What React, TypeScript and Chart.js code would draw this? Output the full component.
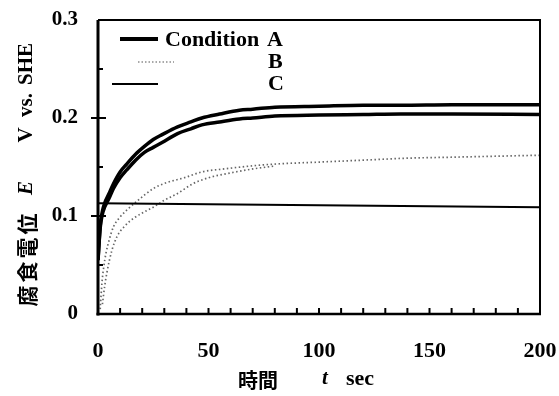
import { useEffect, useRef } from "react";
import { Chart, registerables } from "chart.js";

Chart.register(...registerables);

// ---- data ----
const xTicks = [0, 50, 100, 150, 200];
const yTicks = [0, 0.1, 0.2, 0.3];

const timeA = [0, 1, 2, 3, 5, 7, 10, 13, 17, 21, 25, 29, 36, 42, 47, 55, 64, 70, 80, 100, 120, 137, 160, 200];
const condA1 = [0.055, 0.09, 0.105, 0.113, 0.123, 0.133, 0.145, 0.153, 0.163, 0.171, 0.178, 0.183, 0.191, 0.196, 0.2, 0.204, 0.208, 0.209, 0.211, 0.212, 0.213, 0.213, 0.2135, 0.2135];
const condA2 = [0.055, 0.088, 0.102, 0.109, 0.118, 0.128, 0.139, 0.147, 0.157, 0.165, 0.17, 0.175, 0.184, 0.189, 0.193, 0.196, 0.199, 0.2, 0.202, 0.203, 0.2035, 0.204, 0.204, 0.2035];

const timeB1 = [1, 1.8, 2.6, 3.6, 5, 7, 10, 13, 17.6, 25, 31, 39, 47, 57, 69, 80, 100, 120, 140, 160, 180, 200];
const condB1 = [0.005, 0.032, 0.048, 0.062, 0.075, 0.089, 0.099, 0.106, 0.115, 0.128, 0.134, 0.139, 0.145, 0.148, 0.151, 0.153, 0.155, 0.157, 0.159, 0.16, 0.161, 0.162];

const timeB2 = [2, 3, 4, 6.3, 8.6, 11.8, 16.3, 20.8, 25, 30, 36, 43, 50, 60, 70, 80];
const condB2 = [0.01, 0.028, 0.042, 0.065, 0.079, 0.089, 0.098, 0.104, 0.109, 0.116, 0.123, 0.133, 0.139, 0.144, 0.148, 0.151];

const timeC = [0, 100, 200];
const condC = [0.113, 0.111, 0.109];

const legendNames = ["Condition", "A", "B", "C"];
const yTitleParts = ["SHE", "vs.", "V", "E", "腐食電位"];
const xTitleParts = ["時間", "t", "sec"];

const SERIF = '"Liberation Serif", "Times New Roman", serif';
const CJK = '"Noto Sans CJK JP", sans-serif';

const pts = (xs: number[], ys: number[]) => xs.map((x, i) => ({ x, y: ys[i] }));

const decorPlugin = {
  id: "decor",
  afterDraw(chart: any) {
    const { ctx, chartArea, scales } = chart;
    const { left, right, top, bottom } = chartArea;
    const xs = scales.x;
    const ys = scales.y;
    ctx.save();
    ctx.strokeStyle = "#000";
    ctx.fillStyle = "#000";
    ctx.lineCap = "butt";

    // frame
    ctx.lineWidth = 2;
    ctx.beginPath();
    ctx.moveTo(left, top);
    ctx.lineTo(right, top);
    ctx.lineTo(right, bottom);
    ctx.stroke();
    ctx.lineWidth = 3;
    ctx.beginPath();
    ctx.moveTo(left, top);
    ctx.lineTo(left, bottom + 1.5);
    ctx.stroke();
    ctx.lineWidth = 2.5;
    ctx.beginPath();
    ctx.moveTo(left - 1.5, bottom);
    ctx.lineTo(right + 1, bottom);
    ctx.stroke();

    // inward ticks x every 10
    ctx.lineWidth = 2;
    for (let v = 10; v < 200; v += 10) {
      const px = xs.getPixelForValue(v);
      ctx.beginPath();
      ctx.moveTo(px, bottom);
      ctx.lineTo(px, bottom - 6);
      ctx.stroke();
    }
    // y ticks
    for (let k = 1; k < 6; k++) {
      const v = k * 0.05;
      const py = ys.getPixelForValue(v);
      const major = k % 2 === 0;
      ctx.beginPath();
      ctx.moveTo(major ? left - 7 : left, py);
      ctx.lineTo(left + (major ? 8 : 5), py);
      ctx.stroke();
    }

    // legend
    ctx.lineWidth = 4;
    ctx.beginPath();
    ctx.moveTo(120, 39);
    ctx.lineTo(158, 39);
    ctx.stroke();
    ctx.save();
    ctx.strokeStyle = "rgba(0,0,0,0.45)";
    ctx.lineWidth = 1.5;
    ctx.setLineDash([1.5, 2]);
    ctx.beginPath();
    ctx.moveTo(138, 62);
    ctx.lineTo(174, 62);
    ctx.stroke();
    ctx.restore();
    ctx.lineWidth = 2;
    ctx.beginPath();
    ctx.moveTo(112, 84);
    ctx.lineTo(158, 84);
    ctx.stroke();

    ctx.font = `bold 22px ${SERIF}`;
    ctx.textBaseline = "middle";
    ctx.textAlign = "left";
    ctx.fillText(legendNames[0], 165, 40);
    ctx.fillText(legendNames[1], 267, 40);
    ctx.fillText(legendNames[2], 268, 62);
    ctx.fillText(legendNames[3], 268, 84);

    // y title (rotated)
    const yParts: [string, number, string][] = [
      [yTitleParts[0], 64, `bold 21px ${SERIF}`],
      [yTitleParts[1], 105, `bold 21px ${SERIF}`],
      [yTitleParts[2], 135, `bold 21px ${SERIF}`],
      [yTitleParts[3], 188, `italic bold 21px ${SERIF}`],
      [yTitleParts[4], 260, `bold 21px ${CJK}`],
    ];
    for (const [txt, cy, font] of yParts) {
      ctx.save();
      ctx.translate(27, cy);
      ctx.rotate(-Math.PI / 2);
      ctx.font = font;
      ctx.textAlign = "center";
      ctx.textBaseline = "middle";
      if (txt === yTitleParts[4]) {
        const chars = Array.from(txt);
        const step = 24;
        chars.forEach((c, i) => {
          ctx.fillText(c, (i - (chars.length - 1) / 2) * step, 0);
        });
      } else {
        ctx.fillText(txt, 0, 0);
      }
      ctx.restore();
    }

    // x title
    ctx.textAlign = "center";
    ctx.textBaseline = "middle";
    ctx.font = `bold 20px ${CJK}`;
    ctx.fillText(xTitleParts[0], 258, 380);
    ctx.font = `italic bold 21px ${SERIF}`;
    ctx.fillText(xTitleParts[1], 325, 379);
    ctx.font = `bold 22px ${SERIF}`;
    ctx.fillText(xTitleParts[2], 360, 379);

    ctx.restore();
  },
};

export default function App() {
  const ref = useRef<HTMLCanvasElement | null>(null);
  useEffect(() => {
    if (!ref.current) return;
    const common = { pointRadius: 0, fill: false, cubicInterpolationMode: "monotone" as const };
    const chart = new Chart(ref.current, {
      type: "line",
      data: {
        datasets: [
          { ...common, label: "A1", data: pts(timeA, condA1), borderColor: "#000", borderWidth: 3.5 },
          { ...common, label: "A2", data: pts(timeA, condA2), borderColor: "#000", borderWidth: 3.5 },
          { ...common, label: "B1", data: pts(timeB1, condB1), borderColor: "rgba(0,0,0,0.6)", borderWidth: 1.7, borderDash: [1.5, 2.5] },
          { ...common, label: "B2", data: pts(timeB2, condB2), borderColor: "rgba(0,0,0,0.6)", borderWidth: 1.7, borderDash: [1.5, 2.5] },
          { ...common, label: "C", data: pts(timeC, condC), borderColor: "#000", borderWidth: 2 },
        ],
      },
      options: {
        responsive: false,
        animation: false,
        devicePixelRatio: 1,
        layout: { padding: { left: 0, right: 19, top: 20, bottom: 0 } },
        plugins: { legend: { display: false }, tooltip: { enabled: false }, title: { display: false } },
        scales: {
          x: {
            type: "linear",
            min: 0,
            max: 200,
            afterBuildTicks: (s: any) => {
              s.ticks = xTicks.map((v) => ({ value: v }));
            },
            ticks: { color: "#000", font: { family: SERIF, size: 22, weight: "bold" }, padding: 24, maxRotation: 0, autoSkip: false },
            grid: { display: false, drawTicks: false },
            border: { display: false },
            afterFit: (s: any) => {
              s.height = 82;
              s.paddingLeft = 0;
              s.paddingRight = 0;
            },
          },
          y: {
            type: "linear",
            min: 0,
            max: 0.3,
            afterBuildTicks: (s: any) => {
              s.ticks = yTicks.map((v) => ({ value: v }));
            },
            ticks: {
              color: "#000",
              font: { family: SERIF, size: 21, weight: "bold" },
              padding: 20,
              autoSkip: false,
              callback: (v: any) => String(Math.round(Number(v) * 10) / 10),
            },
            grid: { display: false, drawTicks: false },
            border: { display: false },
            afterFit: (s: any) => {
              s.width = 98;
              s.paddingTop = 0;
              s.paddingBottom = 0;
            },
          },
        },
      },
      plugins: [decorPlugin],
    });
    return () => chart.destroy();
  }, []);
  return (
    <div style={{ position: "absolute", left: 0, top: 0, width: 559, height: 396, background: "#fff" }}>
      <canvas ref={ref} width={559} height={396} style={{ width: 559, height: 396 }} />
    </div>
  );
}
